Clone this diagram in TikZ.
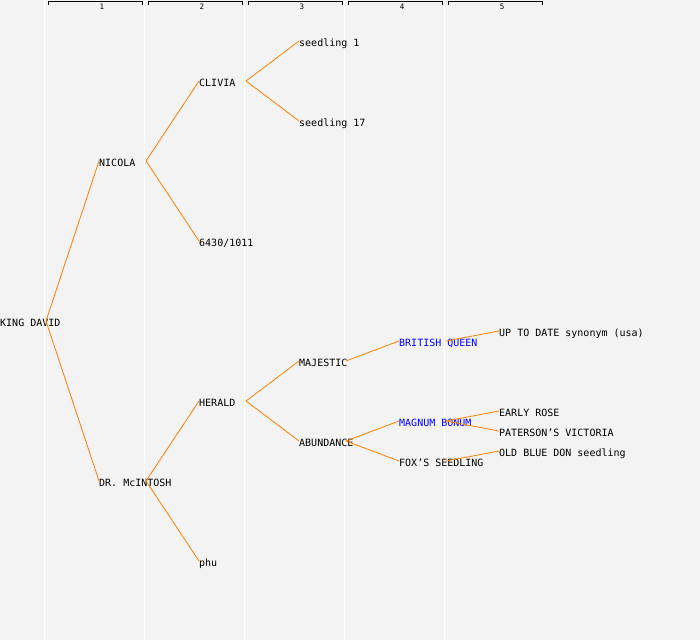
\documentclass[tikz,border=0pt]{standalone}
\usepackage{fontspec}
\setmonofont{DejaVu Sans Mono}
\begin{document}
\begin{tikzpicture}[x=1pt,y=-1pt,
  lbl/.style={anchor=west,inner sep=0pt,text height=10pt,text depth=0pt,font=\ttfamily\fontsize{10}{11}\selectfont,text=black},
  syn/.style={lbl,text={rgb,255:red,0;green,0;blue,255}},
  edge/.style={draw={rgb,255:red,255;green,128;blue,0},line width=0.8pt},
  grid/.style={draw=white,line width=1.2pt},
  brk/.style={draw=black,line width=0.8pt},
  num/.style={inner sep=0pt,font=\ttfamily\fontsize{7.5}{8}\selectfont}]
\fill[fill={rgb,255:red,243;green,243;blue,243}] (0,0) rectangle (700,640);
\useasboundingbox (0,0) rectangle (700,640);
% column grid lines
\foreach \i in {0,...,4}{
  \draw[grid] (44.5+100*\i,0) -- (44.5+100*\i,640);
  \draw[brk] (48+100*\i,4.5) -- (48+100*\i,1.5) -- (142+100*\i,1.5) -- (142+100*\i,4.5);
}
\node[num] (n1) at (102,6.8) {1};
\node[num] (n2) at (202,6.8) {2};
\node[num] (n3) at (302,6.8) {3};
\node[num] (n4) at (402,6.8) {4};
\node[num] (n5) at (502,6.8) {5};
% nodes
\node[lbl] (kd) at (0,321) {KING DAVID};
\node[lbl] (ni) at (99,161) {NICOLA};
\node[lbl] (dr) at (99,481) {DR. McINTOSH};
\node[lbl] (cl) at (199,81) {CLIVIA};
\node[lbl] (c64) at (199,241) {6430/1011};
\node[lbl] (he) at (199,401) {HERALD};
\node[lbl] (phu) at (199,561) {phu};
\node[lbl] (s1) at (299,41) {seedling 1};
\node[lbl] (s17) at (299,121) {seedling 17};
\node[lbl] (ma) at (299,361) {MAJESTIC};
\node[lbl] (ab) at (299,441) {ABUNDANCE};
\node[syn] (bq) at (399,341) {BRITISH QUEEN};
\node[syn] (mb) at (399,421) {MAGNUM BONUM};
\node[lbl] (fs) at (399,461) {FOX’S SEEDLING};
\node[lbl] (up) at (499,331) {UP TO DATE synonym (usa)};
\node[lbl] (er) at (499,411) {EARLY ROSE};
\node[lbl] (pv) at (499,431) {PATERSON’S VICTORIA};
\node[lbl] (ob) at (499,451) {OLD BLUE DON seedling};
% junctions
\coordinate (jkd) at (46,321);
\coordinate (jni) at (146,161);
\coordinate (jdr) at (146,481);
\coordinate (jcl) at (246,81);
\coordinate (jhe) at (246,401);
\coordinate (jma) at (346,361);
\coordinate (jab) at (346,441);
\coordinate (jbq) at (446,341);
\coordinate (jmb) at (446,421);
\coordinate (jfs) at (446,461);
% connectors
\draw[edge] (jkd) -- (ni.west);
\draw[edge] (jkd) -- (dr.west);
\draw[edge] (jni) -- (cl.west);
\draw[edge] (jni) -- (c64.west);
\draw[edge] (jdr) -- (he.west);
\draw[edge] (jdr) -- (phu.west);
\draw[edge] (jcl) -- (s1.west);
\draw[edge] (jcl) -- (s17.west);
\draw[edge] (jhe) -- (ma.west);
\draw[edge] (jhe) -- (ab.west);
\draw[edge] (jma) -- (bq.west);
\draw[edge] (jab) -- (mb.west);
\draw[edge] (jab) -- (fs.west);
\draw[edge] (jbq) -- (up.west);
\draw[edge] (jmb) -- (er.west);
\draw[edge] (jmb) -- (pv.west);
\draw[edge] (jfs) -- (ob.west);
\end{tikzpicture}
\end{document}
